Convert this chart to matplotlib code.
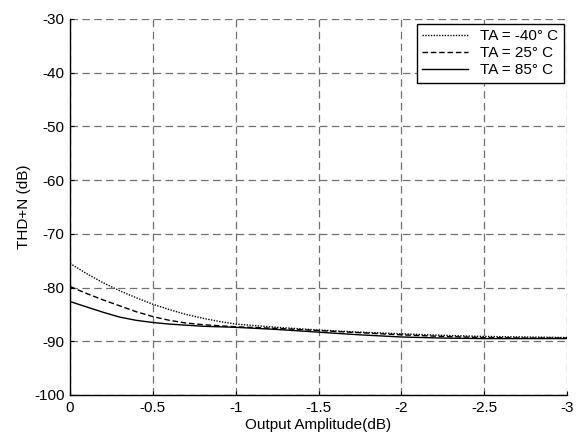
import matplotlib
matplotlib.use("Agg")
import matplotlib.pyplot as plt

plt.rcParams['font.family'] = ['Liberation Sans', 'DejaVu Sans']
plt.rcParams['axes.unicode_minus'] = False

x = [0, -0.1, -0.2, -0.3, -0.4, -0.5, -0.6, -0.7, -0.8, -0.9, -1.0,
     -1.25, -1.5, -1.75, -2.0, -2.25, -2.5, -2.75, -3.0]
thd_m40 = [-75.5, -77.4, -79.1, -80.6, -81.9, -83.1, -84.1, -85.0, -85.7, -86.3, -86.8,
           -87.4, -87.9, -88.3, -88.6, -88.9, -89.1, -89.2, -89.3]
thd_25 = [-79.8, -81.1, -82.3, -83.4, -84.5, -85.4, -86.1, -86.6, -86.9, -87.1, -87.3,
          -87.6, -88.0, -88.4, -88.8, -89.1, -89.3, -89.4, -89.4]
thd_85 = [-82.6, -83.6, -84.6, -85.5, -86.1, -86.5, -86.8, -87.0, -87.2, -87.3, -87.4,
          -87.8, -88.3, -88.8, -89.2, -89.4, -89.5, -89.5, -89.5]
labels = ["TA = -40° C", "TA = 25° C", "TA = 85° C"]
xticks = [0, -0.5, -1, -1.5, -2, -2.5, -3]
xticklabels = ["0", "-0.5", "-1", "-1.5", "-2", "-2.5", "-3"]
yticks = [-100, -90, -80, -70, -60, -50, -40, -30]

fig = plt.figure(figsize=(5.81, 4.34), dpi=100)
ax = fig.add_axes([70/581, 39/434, 497/581, 376/434])

ax.plot(x, thd_m40, color='black', linestyle=(0, (1, 1)), linewidth=1.0, label=labels[0])
ax.plot(x, thd_25, color='black', linestyle=(0, (4, 2)), linewidth=1.0, label=labels[1])
ax.plot(x, thd_85, color='black', linestyle='-', linewidth=1.0, label=labels[2])

ax.set_xlim(0, -3)
ax.set_ylim(-100, -30)
ax.set_xticks(xticks)
ax.set_xticklabels(xticklabels)
ax.set_yticks(yticks)
ax.grid(True, color='#707070', linestyle=(0, (6, 3.5)), linewidth=0.9)
for s in ['top', 'right']:
    ax.spines[s].set_visible(False)
for s in ['left', 'bottom']:
    ax.spines[s].set_linewidth(1.0)
ax.tick_params(direction='in', length=3, width=0.8, labelsize=11, pad=4)
ax.set_xlabel("Output Amplitude(dB)", fontsize=11, labelpad=2.5)
ax.set_ylabel("THD+N (dB)", fontsize=11, labelpad=2)

leg = ax.legend(loc='upper right', bbox_to_anchor=(0.9935, 0.987), fontsize=11,
                frameon=True, fancybox=False, edgecolor='black', framealpha=1,
                handlelength=3.0, borderpad=0.35, labelspacing=0.2, handletextpad=0.8,
                borderaxespad=0.0)
leg.get_frame().set_linewidth(1.0)

fig.savefig("out.png", dpi=100)
